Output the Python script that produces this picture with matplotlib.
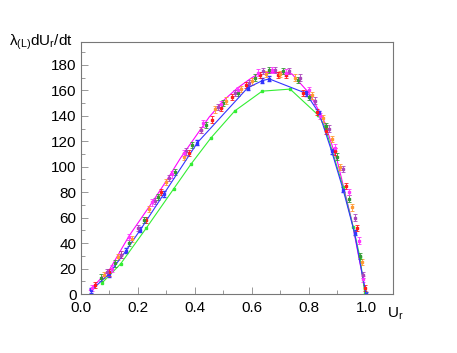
import numpy as np
import matplotlib
matplotlib.use('Agg')
import matplotlib.pyplot as plt
from matplotlib.ticker import MultipleLocator

plt.rcParams['font.family'] = ['Liberation Sans', 'DejaVu Sans']
plt.rcParams['mathtext.fontset'] = 'custom'
plt.rcParams['mathtext.rm'] = 'Liberation Sans'
plt.rcParams['mathtext.it'] = 'Liberation Sans'

# lines with markers
blue_x = [0.037, 0.098, 0.158, 0.209, 0.291, 0.409, 0.585, 0.637, 0.661, 0.789, 0.836, 0.88, 0.92, 0.96, 1.0]
blue_y = [3, 15.7, 34, 50.6, 78.6, 119, 162, 167.7, 169, 157.8, 142, 112, 82, 48, 0]
green_x = [0.075, 0.139, 0.23, 0.326, 0.386, 0.456, 0.540, 0.636, 0.734, 0.833, 0.856, 0.92, 0.955, 0.979, 0.996]
green_y = [8.9, 23.6, 52, 82.8, 102, 122.6, 143.9, 159.4, 161, 140.5, 131.5, 84, 53, 29, 0.5]
fit_x = [0.03, 0.1, 0.17, 0.25, 0.3, 0.35, 0.4, 0.45, 0.5, 0.55, 0.6, 0.63, 0.7, 0.74, 0.76, 0.8, 0.85, 0.9, 0.95, 1.0]
fit_y = [3, 19, 46, 72, 89, 107, 123, 139, 152, 162, 170, 174, 174, 173, 168, 158, 138, 104, 58, 0]

# scattered measurements with error bars
red_x = [0.05, 0.10, 0.14, 0.23, 0.28, 0.38, 0.46, 0.49, 0.53, 0.58, 0.63, 0.69, 0.72, 0.78, 0.83, 0.86, 0.89, 0.93, 0.97, 0.995]
red_y = [7, 17, 31, 58, 80, 111, 137, 146, 155, 164, 172, 172, 172, 158, 143, 128, 112, 85, 52, 5]
orange_x = [0.08, 0.13, 0.18, 0.24, 0.30, 0.36, 0.42, 0.47, 0.51, 0.56, 0.60, 0.65, 0.70, 0.75, 0.81, 0.85, 0.88, 0.91, 0.95, 0.985]
orange_y = [15, 29, 43, 67, 88, 108, 129, 145, 152, 161, 167, 173, 173, 170, 156, 138, 122, 100, 68, 25]
dgreen_x = [0.07, 0.12, 0.17, 0.22, 0.27, 0.33, 0.39, 0.44, 0.50, 0.55, 0.61, 0.66, 0.71, 0.76, 0.80, 0.86, 0.90, 0.94, 0.98]
dgreen_y = [13, 24, 40, 58, 76, 96, 117, 133, 150, 158, 170, 176, 175, 168, 155, 132, 108, 75, 30]
purple_x = [0.09, 0.14, 0.20, 0.26, 0.31, 0.37, 0.42, 0.48, 0.54, 0.59, 0.64, 0.68, 0.73, 0.77, 0.82, 0.87, 0.92, 0.96, 0.99]
purple_y = [17, 31, 52, 73, 91, 112, 129, 147, 158, 166, 175, 176, 175, 170, 152, 130, 98, 60, 15]
mag_x = [0.04, 0.11, 0.17, 0.25, 0.32, 0.36, 0.43, 0.49, 0.55, 0.62, 0.67, 0.72, 0.80, 0.84, 0.89, 0.94, 0.975, 0.99]
mag_y = [5, 20, 45, 72, 94, 111, 134, 149, 160, 174, 176, 174, 160, 140, 115, 80, 42, 12]

fig = plt.figure(figsize=(4.57, 3.53), dpi=100)
ax = fig.add_axes([0.177, 0.167, 0.683, 0.714])

ax.plot(fit_x, fit_y, color='#ff00ff', lw=0.8)
ax.errorbar(blue_x, blue_y, yerr=2, color='#3333ff', lw=0.8, marker='s', ms=1.8, capsize=1.3, elinewidth=0.6)
ax.plot(green_x, green_y, color='#33ee33', lw=0.8, marker='s', ms=1.6)

scat = [(red_x, red_y, '#ff1a1a'), (orange_x, orange_y, '#ff9933'),
        (dgreen_x, dgreen_y, '#339933'), (purple_x, purple_y, '#aa44bb'),
        (mag_x, mag_y, '#ff33ff')]
for xs, ys, c in scat:
    ax.errorbar(xs, ys, yerr=2.5, fmt='s', color=c, ms=1.8, capsize=1.3, elinewidth=0.6, capthick=0.6)

ax.set_xlim(0, 1.095)
ax.set_ylim(0, 198)
ax.xaxis.set_minor_locator(MultipleLocator(0.1))
ax.yaxis.set_minor_locator(MultipleLocator(10))
ax.set_xticks([0, 0.2, 0.4, 0.6, 0.8, 1.0])
ax.set_xticklabels(['0.0', '0.2', '0.4', '0.6', '0.8', '1.0'])
ax.set_yticks(np.arange(0, 181, 20))
ax.tick_params(which='major', direction='in', length=5, width=0.6, color='#888888', labelsize=11, pad=3)
ax.tick_params(axis='x', which='major', pad=5)
ax.tick_params(which='minor', direction='in', length=3, width=0.6, color='#888888')
for s in ax.spines.values():
    s.set_color('#777777')
    s.set_linewidth(0.8)

ax.text(1.006, -0.08, r'U$_\mathrm{r}$', transform=ax.transAxes, ha='center', va='center', fontsize=11)
fig.text(73 / 457, 1 - 42 / 353, r'λ$_\mathrm{(L)}$dU$_\mathrm{r}$/dt', ha='right', va='center', fontsize=11)

plt.savefig('out.png', dpi=100)
